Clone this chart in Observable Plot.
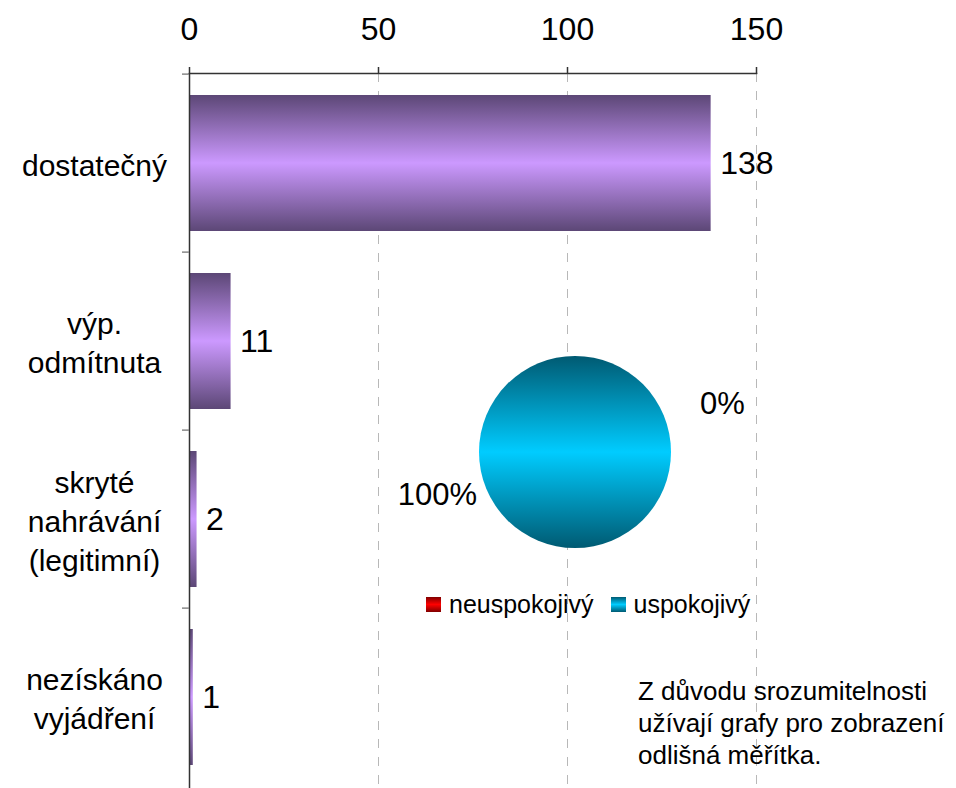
<!DOCTYPE html>
<html>
<head>
<meta charset="utf-8">
<script src="https://cdn.jsdelivr.net/npm/d3@7"></script>
<script src="https://cdn.jsdelivr.net/npm/@observablehq/plot@0.6"></script>
<style>
  body { margin: 0; background: #fff; font-family: "Liberation Sans", Arial, sans-serif; }
  #wrap { position: relative; width: 956px; height: 788px; overflow: hidden; }
  #pie { position: absolute; left: 380px; top: 340px; }
  #legend { position: absolute; left: 426px; top: 590px; height: 28px; line-height: 28px; font-size: 25px; display: flex; align-items: center; white-space: nowrap; }
  #legend .sw { width: 15px; height: 15px; display: inline-block; margin-right: 8px; }
  #note { position: absolute; left: 638px; top: 675px; font-size: 26px; line-height: 32px; color: #000; }
</style>
</head>
<body>
<div id="wrap">
  <div id="main"></div>
  <div id="pie"></div>
  <div id="legend"></div>
  <div id="note"></div>
</div>
<script>
// ---- data ----
const categories = ["dostatečný", "výp.\nodmítnuta", "skryté\nnahrávání\n(legitimní)", "nezískáno\nvyjádření"];
const counts = [138, 11, 2, 1];
const xTicks = [0, 50, 100, 150];

const pieLabels = ["neuspokojivý", "uspokojivý"];
const pieShares = [0, 100];
const noteLines = ["Z důvodu srozumitelnosti", "užívají grafy pro zobrazení", "odlišná měřítka."];

const bars = categories.map((c, i) => ({category: c, count: counts[i]}));
const pieData = pieLabels.map((l, i) => ({label: l, share: pieShares[i]}));

const font = "'Liberation Sans', Arial, sans-serif";

// gradient definitions
function defs() {
  const svg = d3.create("svg:defs");
  const g1 = svg.append("linearGradient").attr("id", "barGrad").attr("x1", 0).attr("y1", 0).attr("x2", 0).attr("y2", 1);
  [[0, "#5c4776"], [0.5, "#cc99ff"], [1, "#5c4776"]].forEach(([o, c]) => g1.append("stop").attr("offset", o).attr("stop-color", c));
  const g2 = svg.append("linearGradient").attr("id", "pieGrad").attr("x1", 0).attr("y1", 0).attr("x2", 0).attr("y2", 1);
  [[0, "#005a72"], [0.5, "#00ccff"], [1, "#005a72"]].forEach(([o, c]) => g2.append("stop").attr("offset", o).attr("stop-color", c));
  const g3 = svg.append("linearGradient").attr("id", "redGrad").attr("x1", 0).attr("y1", 0).attr("x2", 0).attr("y2", 1);
  [[0, "#800000"], [0.5, "#ff0000"], [1, "#800000"]].forEach(([o, c]) => g3.append("stop").attr("offset", o).attr("stop-color", c));
  return svg.node();
}

const step = (788 - 73) / categories.length;

const main = Plot.plot({
  width: 956,
  height: 788,
  marginTop: 73,
  marginLeft: 189,
  marginRight: 200,
  marginBottom: 0,
  style: {fontFamily: font, fontSize: "30px", color: "#000", background: "#fff", overflow: "visible"},
  x: {domain: [0, 150], axis: null, label: null},
  y: {domain: categories, axis: null, label: null, paddingInner: 0.234, paddingOuter: 0.117},
  marks: [
    defs,
    Plot.ruleX(xTicks.slice(1), {stroke: "#b8b8b8", strokeDasharray: "9,9"}),
    Plot.barX(bars, {y: "category", x: "count", fill: "url(#barGrad)"}),
    Plot.frame({anchor: "top", stroke: "#333", strokeWidth: 1.5}),
    Plot.ruleX([0], {stroke: "#333", strokeWidth: 1.5}),
    Plot.axisY({tickSize: 7, dy: -step / 2, tickFormat: () => "", label: null, stroke: "#888", strokeWidth: 1.5}),
    Plot.axisX(xTicks, {anchor: "top", tickSize: 7, tickPadding: 27, label: null, fontSize: 32, stroke: "#333", strokeWidth: 1.5}),
    Plot.text(bars, {y: "category", x: "count", text: d => String(d.count), dx: 9, textAnchor: "start", fontSize: 32, fill: "#000"}),
    Plot.text(bars, {y: "category", x: 0, text: "category", dx: -95, textAnchor: "middle", lineHeight: 1.3, fontSize: 30, fill: "#000"})
  ]
});
document.getElementById("main").appendChild(main);

// ---- pie ----
const pieW = 390, pieH = 224, pieR = 96;
function pieMark(index, scales, values, dims) {
  const g = d3.create("svg:g").attr("transform", `translate(${dims.width / 2},${dims.height / 2})`);
  const arcs = d3.pie().sort(null).value(d => d.share)(pieData);
  const arc = d3.arc().innerRadius(0).outerRadius(pieR);
  g.selectAll("path").data(arcs).join("path")
    .attr("d", arc)
    .attr("fill", d => d.data.label === "uspokojivý" ? "url(#pieGrad)" : "url(#redGrad)");
  return g.node();
}
const pie = Plot.plot({
  width: pieW,
  height: pieH,
  margin: 0,
  style: {fontFamily: font, fontSize: "31px", color: "#000", background: "transparent", overflow: "visible"},
  marks: [
    defs,
    pieMark,
    Plot.text([pieData[0]], {text: d => d.share + "%", frameAnchor: "middle", dx: 147, dy: -48, fontSize: 31, fill: "#000"}),
    Plot.text([pieData[1]], {text: d => d.share + "%", frameAnchor: "middle", dx: -138, dy: 43, fontSize: 31, fill: "#000"})
  ]
});
document.getElementById("pie").appendChild(pie);

// ---- legend ----
const legend = document.getElementById("legend");
const swatchFill = {"neuspokojivý": "linear-gradient(#800000, #ff0000, #800000)", "uspokojivý": "linear-gradient(#005a72, #00ccff, #005a72)"};
pieLabels.forEach((l, i) => {
  const item = document.createElement("span");
  item.style.display = "inline-flex";
  item.style.alignItems = "center";
  item.style.marginRight = i === 0 ? "17px" : "0";
  const sw = document.createElement("span");
  sw.className = "sw";
  sw.style.background = swatchFill[l];
  item.appendChild(sw);
  item.appendChild(document.createTextNode(l));
  legend.appendChild(item);
});

// ---- note ----
const note = document.getElementById("note");
noteLines.forEach(t => { const d = document.createElement("div"); d.textContent = t; note.appendChild(d); });
</script>
</body>
</html>
